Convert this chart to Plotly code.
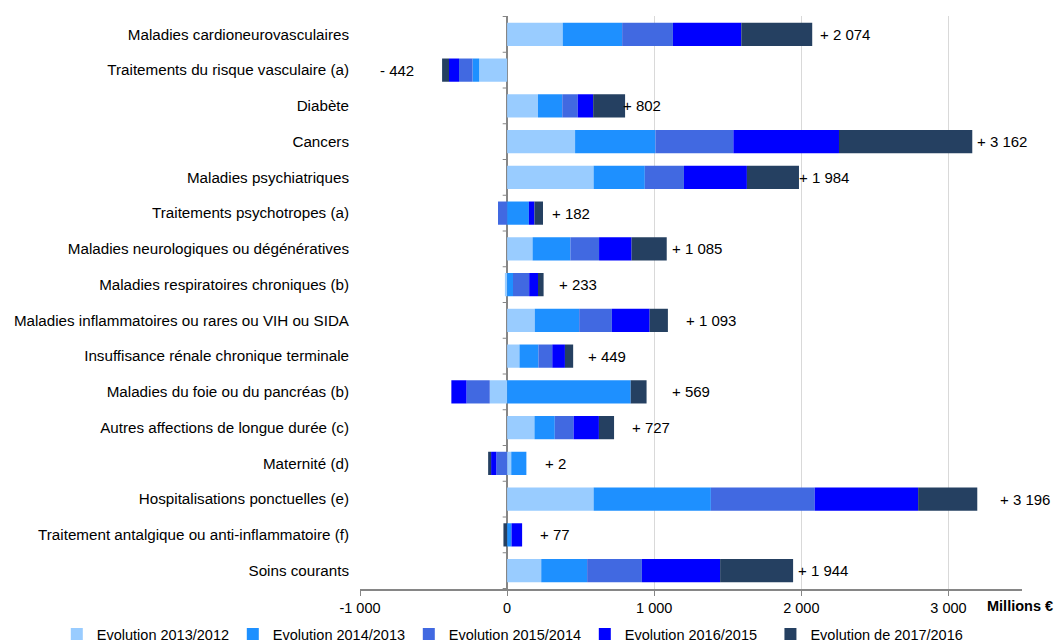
import plotly.graph_objects as go

# Catégories (de haut en bas)
categories = [
    "Maladies cardioneurovasculaires",
    "Traitements du risque vasculaire (a)",
    "Diabète",
    "Cancers",
    "Maladies psychiatriques",
    "Traitements psychotropes (a)",
    "Maladies neurologiques ou dégénératives",
    "Maladies respiratoires chroniques (b)",
    "Maladies inflammatoires ou rares ou VIH ou SIDA",
    "Insuffisance rénale chronique terminale",
    "Maladies du foie ou du pancréas (b)",
    "Autres affections de longue durée (c)",
    "Maternité (d)",
    "Hospitalisations ponctuelles (e)",
    "Traitement antalgique ou anti-inflammatoire (f)",
    "Soins courants",
]

# Évolutions annuelles des dépenses (millions d'euros)
evol_2013_2012 = [378, -190, 210, 462, 588, 0, 173, -15, 188, 84, -118, 186, 28, 588, 0, 232]
evol_2014_2013 = [404, -45, 165, 546, 348, 148, 257, 40, 302, 129, 840, 138, 103, 797, 30, 312]
evol_2015_2014 = [345, -92, 105, 530, 266, -62, 195, 110, 222, 94, -158, 128, -73, 706, 0, 372]
evol_2016_2015 = [465, -68, 105, 718, 428, 38, 221, 60, 257, 86, -103, 172, -36, 703, 72, 532]
evol_2017_2016 = [482, -47, 217, 906, 354, 58, 239, 38, 124, 56, 108, 103, -20, 402, -25, 496]

series_names = [
    "Evolution 2013/2012",
    "Evolution 2014/2013",
    "Evolution 2015/2014",
    "Evolution 2016/2015",
    "Evolution de 2017/2016",
]

# Axe des abscisses
x_tickvals = [-1000, 0, 1000, 2000, 3000]
x_ticktext = ["-1 000", "0", "1 000", "2 000", "3 000"]

# Mise en forme
colors = ["#99CCFF", "#1E90FF", "#4169E1", "#0000FF", "#254061"]
# abscisse (en millions) du bord gauche de chaque étiquette de total
label_x = [2111, -875, 775, 3180, 1973, 292, 1109, 338, 1199, 537, 1104, 832, 242, 3337, 208, 1966]
# la dernière série a sa propre légende (libellé plus long)
legend_refs = ["legend", "legend", "legend", "legend", "legend2"]

series = [evol_2013_2012, evol_2014_2013, evol_2015_2014, evol_2016_2015, evol_2017_2016]
totals = [sum(v) for v in zip(*series)]


def fmt_total(v):
    s = f"{abs(v):,}".replace(",", " ")
    return ("+ " if v >= 0 else "- ") + s


font_family = "Liberation Sans, Arial, sans-serif"

fig = go.Figure()
for name, vals, col, lg in zip(series_names, series, colors, legend_refs):
    fig.add_trace(go.Bar(
        y=categories, x=vals, name=name, orientation="h", legend=lg,
        marker=dict(color=col, line=dict(width=0)),
    ))

for cat, tot, lx in zip(categories, totals, label_x):
    fig.add_annotation(
        x=lx, y=cat, xref="x", yref="y", text=fmt_total(tot),
        showarrow=False, xanchor="left", yanchor="middle",
        font=dict(size=15, color="#000000", family=font_family),
    )

# Petites graduations de l'axe vertical (à x = 0), entre catégories
for k in range(len(categories) + 1):
    fig.add_shape(type="line", xref="x", yref="y",
                  x0=-30, x1=0, y0=k - 0.5, y1=k - 0.5,
                  line=dict(color="#868686", width=1))

fig.add_annotation(
    x=0.944, y=-0.03, xref="paper", yref="paper", text="<b>Millions €</b>",
    showarrow=False, xanchor="left", yanchor="middle",
    font=dict(size=14.5, color="#000000", family=font_family),
)

legend_common = dict(orientation="h", xref="paper", yref="paper",
                     xanchor="left", y=-0.0785, yanchor="middle",
                     font=dict(size=14.5), traceorder="normal", itemwidth=30,
                     bgcolor="rgba(0,0,0,0)")

fig.update_layout(
    width=1058, height=641,
    margin=dict(l=360, r=36, t=16, b=52, autoexpand=False),
    barmode="relative", bargap=0.35,
    plot_bgcolor="white", paper_bgcolor="white",
    font=dict(family=font_family, size=15, color="#000000"),
    showlegend=True,
    legend=dict(x=-0.458, entrywidth=131, entrywidthmode="pixels", **legend_common),
    legend2=dict(x=0.62, **legend_common),
    xaxis=dict(
        range=[-1000, 3500], tickvals=x_tickvals, ticktext=x_ticktext,
        showgrid=True, gridcolor="#D9D9D9", gridwidth=1,
        zeroline=True, zerolinecolor="#868686", zerolinewidth=1.5,
        showline=True, linecolor="#868686", linewidth=1.5,
        ticks="outside", ticklen=5, tickcolor="#868686",
        tickfont=dict(size=14.5),
    ),
    yaxis=dict(
        autorange="reversed", showgrid=False, showline=False, zeroline=False,
        ticks="", ticklabelstandoff=10, tickfont=dict(size=15.2),
    ),
)

fig.write_html("out.html")
